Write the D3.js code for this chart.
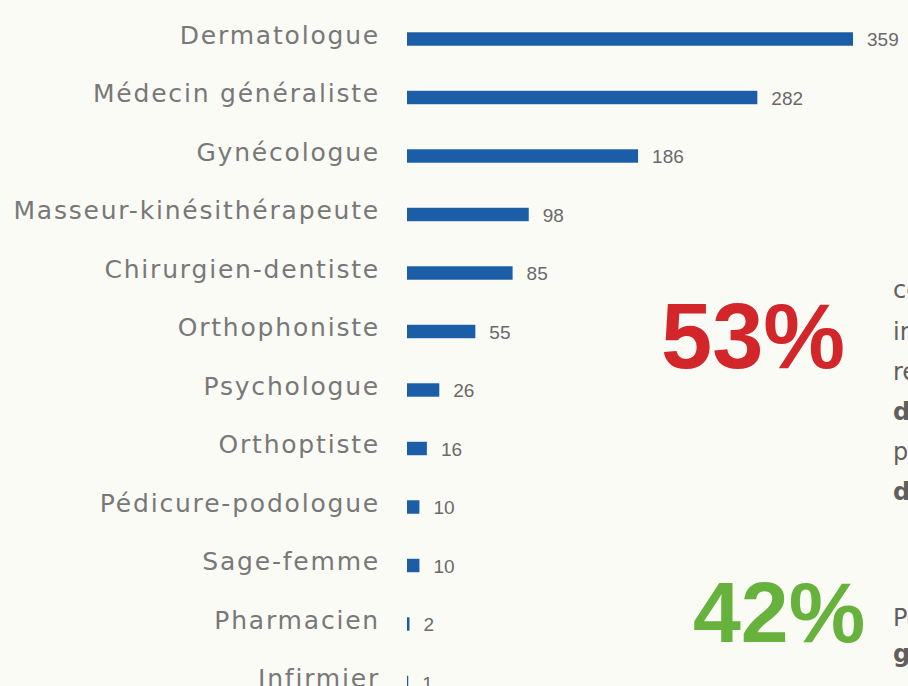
<!DOCTYPE html>
<html>
<head>
<meta charset="utf-8">
<script src="https://cdn.jsdelivr.net/npm/d3@7"></script>
<style>
  body { margin: 0; background: #fbfbf6; overflow: hidden; }
  svg { display: block; }
</style>
</head>
<body>
<div id="chart-area"></div>
<script>
// data
const professions = [
	"Dermatologue", "Médecin généraliste", "Gynécologue", "Masseur-kinésithérapeute",
	"Chirurgien-dentiste", "Orthophoniste", "Psychologue", "Orthoptiste",
	"Pédicure-podologue", "Sage-femme", "Pharmacien", "Infirmier"
]
const counts = [359, 282, 186, 98, 85, 55, 26, 16, 10, 10, 2, 1]

const WIDTH = 908
const HEIGHT = 686
const BAR_X = 407

const svg = d3.select("#chart-area").append("svg")
	.attr("width", WIDTH)
	.attr("height", HEIGHT)

svg.append("rect")
	.attr("width", WIDTH)
	.attr("height", HEIGHT)
	.attr("fill", "#fbfbf6")

// scales
const x = d3.scaleLinear()
	.domain([0, 359])
	.range([BAR_X, 853])
const y = d3.scaleBand()
	.domain(professions)
	.range([9.75, 711.75])
	.paddingInner(0.77)
	.paddingOuter(0.385)

const data = professions.map((p, i) => ({ name: p, value: counts[i] }))

// bars
svg.selectAll(".bar")
	.data(data)
	.enter().append("rect")
	.attr("class", "bar")
	.attr("x", x(0))
	.attr("y", d => y(d.name))
	.attr("width", d => x(d.value) - x(0))
	.attr("height", y.bandwidth())
	.attr("fill", "#1b5ea7")

// category labels (left axis without line)
const yAxis = svg.append("g")
	.attr("transform", `translate(${BAR_X - 27}, 0)`)
	.call(d3.axisLeft(y).tickSize(0).tickPadding(0))
yAxis.select(".domain").remove()
yAxis.selectAll("text")
	.attr("dy", "0.18em")
	.attr("fill", "#787878")
	.style("font-family", "'DejaVu Sans', sans-serif")
	.style("font-size", "25px")
	.style("letter-spacing", "1.8px")

// value labels
svg.selectAll(".value")
	.data(data)
	.enter().append("text")
	.attr("class", "value")
	.attr("x", d => x(d.value) + 14)
	.attr("y", d => y(d.name) + y.bandwidth() / 2 + 7)
	.attr("fill", "#6a6a6a")
	.style("font-family", "'Liberation Sans', Arial, sans-serif")
	.style("font-size", "19px")
	.text(d => d.value)

// key figures on the right
svg.append("text")
	.attr("x", 661)
	.attr("y", 368)
	.attr("fill", "#d3262a")
	.style("font-family", "'Liberation Sans', Arial, sans-serif")
	.style("font-weight", "bold")
	.style("font-size", "92px")
	.text("53%")

svg.append("text")
	.attr("x", 693)
	.attr("y", 642)
	.attr("fill", "#67b23c")
	.style("font-family", "'Liberation Sans', Arial, sans-serif")
	.style("font-weight", "bold")
	.style("font-size", "86px")
	.text("42%")

// text running off the right edge
const sideLines = [
	{ t: "ces", y: 298, b: false },
	{ t: "interrogés", y: 340, b: false },
	{ t: "recours", y: 380, b: false },
	{ t: "dermatologue", y: 420, b: true },
	{ t: "pour", y: 460, b: false },
	{ t: "de", y: 500, b: true },
	{ t: "Pour", y: 626, b: false },
	{ t: "généraliste", y: 662, b: true }
]
svg.selectAll(".side")
	.data(sideLines)
	.enter().append("text")
	.attr("class", "side")
	.attr("x", 893)
	.attr("y", d => d.y)
	.attr("fill", "#5f5f5f")
	.style("font-family", "'DejaVu Sans', sans-serif")
	.style("font-size", "24px")
	.style("font-weight", d => d.b ? "bold" : "normal")
	.text(d => d.t)
</script>
</body>
</html>
